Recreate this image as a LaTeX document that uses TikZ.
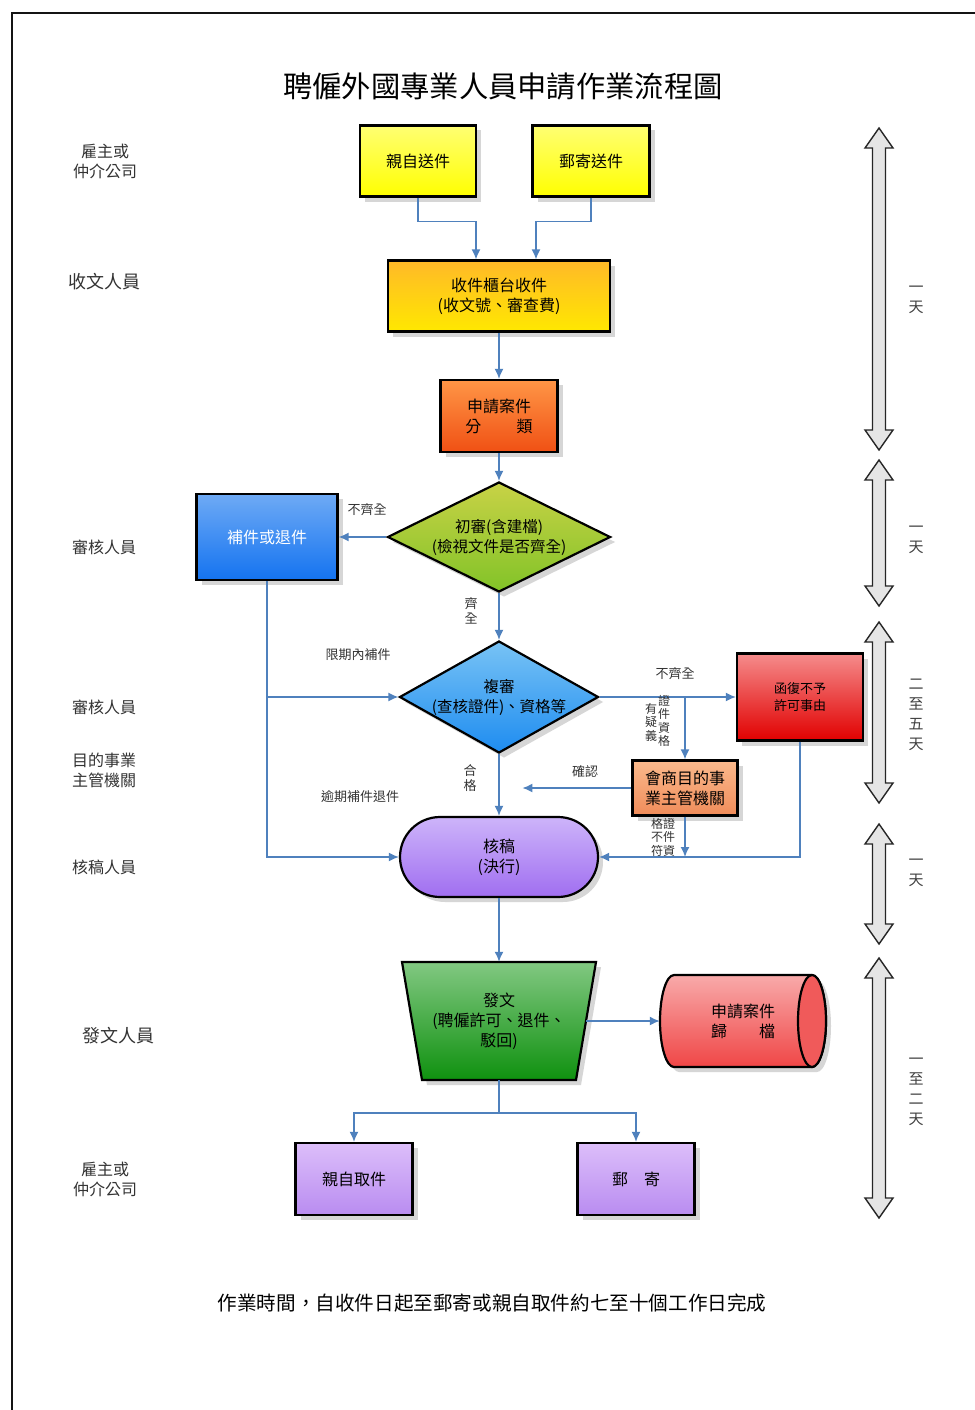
\documentclass[tikz,border=0pt]{standalone}
\usepackage{fontspec}
\setmainfont{Noto Sans CJK TC}
\usetikzlibrary{shapes.geometric,arrows.meta,shadows,calc}
\definecolor{arrowblue}{RGB}{79,129,189}
\definecolor{frame}{RGB}{20,20,20}
\newcommand\dayarrow[3]{%
  \draw[dayarr] ({#1-6.5},{#2+20}) -- ({#1-14},{#2+20}) -- (#1,#2) -- ({#1+14},{#2+20}) -- ({#1+6.5},{#2+20})
    -- ({#1+6.5},{#3-20}) -- ({#1+14},{#3-20}) -- (#1,#3) -- ({#1-14},{#3-20}) -- ({#1-6.5},{#3-20}) -- cycle;}
\begin{document}
\begin{tikzpicture}[x=1pt,y=-1pt,
  box/.style={draw=black, line width=2.2pt, inner sep=0pt, align=center,
    font=\fontsize{16}{20}\selectfont,
    drop shadow={shadow xshift=5pt, shadow yshift=-5pt, fill=black!16, opacity=1}},
  dia/.style={box, diamond},
  diatext/.style={align=center, inner sep=0pt, font=\fontsize{15.5}{20}\selectfont},
  arr/.style={draw=arrowblue, line width=1.6pt, -{Latex[length=10pt,width=9pt]}},
  ln/.style={draw=arrowblue, line width=1.6pt},
  lane/.style={align=center, font=\fontsize{16}{20}\selectfont, text=black!80},
  lbl/.style={font=\fontsize{13}{15}\selectfont, text=black!80, inner sep=0pt},
  vlbl/.style={align=center, font=\fontsize{13}{15.5}\selectfont, text=black!80, inner sep=0pt},
  vsm/.style={align=center, font=\fontsize{12}{13.5}\selectfont, text=black!80, inner sep=0pt},
  daylbl/.style={align=center, font=\fontsize{15}{20}\selectfont, text=black!75, inner sep=0pt},
  dayarr/.style={draw=black!85, line width=1.4pt, fill=black!10, line join=miter}
]
\useasboundingbox (0,0) rectangle (974,1410);
\fill[white] (0,0) rectangle (974,1410);
\draw[frame, line width=2pt] (12,1412) -- (12,13) -- (976,13);

% title
\node (title) at (503,87) {\fontsize{29.3}{34}\selectfont 聘僱外國專業人員申請作業流程圖};

% lane labels
\node[lane] (l1) at (105,161) {雇主或\\仲介公司};
\node[lane, font=\fontsize{18}{20}\selectfont] (l2) at (104,282) {收文人員};
\node[lane] (l3) at (104,547) {審核人員};
\node[lane] (l4) at (104,707) {審核人員};
\node[lane] (l5) at (104,770) {目的事業\\主管機關};
\node[lane] (l6) at (104,867) {核稿人員};
\node[lane, font=\fontsize{18}{20}\selectfont] (l7) at (118,1036) {發文人員};
\node[lane] (l8) at (105,1179) {雇主或\\仲介公司};

% nodes
\node[box, minimum width=116, minimum height=71, top color=yellow!55!white, bottom color=yellow] (sq1) at (418,161) {親自送件};
\node[box, minimum width=117, minimum height=71, top color=yellow!55!white, bottom color=yellow] (sq2) at (591,161) {郵寄送件};
\node[box, minimum width=222, minimum height=71, top color={rgb,255:red,255;green,185;blue,40}, bottom color={rgb,255:red,255;green,232;blue,0}] (recv) at (499,296) {收件櫃台收件\\(收文號、審查費)};
\node[box, minimum width=117, minimum height=72, top color={rgb,255:red,255;green,150;blue,70}, bottom color={rgb,255:red,240;green,80;blue,20}] (cls) at (499,416) {申請案件\\分\hspace{2.2em}類};
\node[dia, minimum width=223, minimum height=110, top color={rgb,255:red,200;green,210;blue,70}, bottom color={rgb,255:red,130;green,195;blue,40}] (d1) at (499,537) {};
\node[diatext] (d1t) at (d1.center) {初審(含建檔)\\(檢視文件是否齊全)};
\node[box, minimum width=141, minimum height=86, top color={rgb,255:red,110;green,170;blue,245}, bottom color={rgb,255:red,20;green,115;blue,240}, text=white] (bu) at (267,537) {補件或退件};
\node[dia, minimum width=199, minimum height=112, top color={rgb,255:red,120;green,195;blue,245}, bottom color={rgb,255:red,30;green,140;blue,240}] (d2) at (499,697) {};
\node[diatext] (d2t) at (d2.center) {複審\\(查核證件)、資格等};
\node[box, minimum width=126, minimum height=87, font=\fontsize{13}{17}\selectfont, top color={rgb,255:red,245;green,140;blue,140}, bottom color={rgb,255:red,225;green,0;blue,0}] (rej) at (800,697) {函復不予\\許可事由};
\node[box, minimum width=105, minimum height=55, top color={rgb,255:red,250;green,185;blue,140}, bottom color={rgb,255:red,240;green,140;blue,90}] (meet) at (685,788) {會商目的事\\業主管機關};
\node[box, minimum width=198, minimum height=80, rounded corners=40pt, top color={rgb,255:red,205;green,180;blue,250}, bottom color={rgb,255:red,160;green,110;blue,240}] (chk) at (499,857) {核稿\\(決行)};

% trapezoid 發文
\path[draw=black, line width=2.2pt, top color={rgb,255:red,130;green,200;blue,130}, bottom color={rgb,255:red,15;green,145;blue,15},
  drop shadow={shadow xshift=5pt, shadow yshift=-5pt, fill=black!16, opacity=1}]
  (402,962) -- (596,962) -- (576,1080) -- (422,1080) -- cycle;
\node[inner sep=0pt, minimum width=174, minimum height=118, align=center, font=\fontsize{16}{20}\selectfont] (fawen) at (499,1021) {發文\\(聘僱許可、退件、\\駁回)};

% cylinder 歸檔
\path[draw=black, line width=2.2pt, top color={rgb,255:red,248;green,170;blue,170}, bottom color={rgb,255:red,240;green,70;blue,70},
  drop shadow={shadow xshift=5pt, shadow yshift=-5pt, fill=black!16, opacity=1}]
  (674,975) -- (812,975) arc[start angle=-90, end angle=90, x radius=14, y radius=46]
  -- (674,1067) arc[start angle=90, end angle=270, x radius=14, y radius=46] -- cycle;
\draw[line width=2.2pt, fill={rgb,255:red,240;green,90;blue,90}] (812,1021) ellipse[x radius=14, y radius=46];
\node[inner sep=0pt, minimum width=166, minimum height=93, align=center, font=\fontsize{16}{20}\selectfont] (arch) at (743,1021) {申請案件\\歸\hspace{2em}檔};

\node[box, minimum width=117, minimum height=72, top color={rgb,255:red,220;green,190;blue,250}, bottom color={rgb,255:red,185;green,140;blue,240}] (pick) at (354,1179) {親自取件};
\node[box, minimum width=117, minimum height=72, top color={rgb,255:red,220;green,190;blue,250}, bottom color={rgb,255:red,185;green,140;blue,240}] (mail) at (636,1179) {郵\hspace{1em}寄};

% connectors
\draw[arr] (sq1.south) |- ($(recv.north)+(-23,-38)$) -- ($(recv.north)+(-23,0)$);
\draw[arr] (sq2.south) |- ($(recv.north)+(37,-38)$) -- ($(recv.north)+(37,0)$);
\draw[arr] (recv.south) -- (cls.north);
\draw[arr] (cls.south) -- (d1.north);
\draw[arr] (d1.west) -- (bu.east);
\draw[arr] (d1.south) -- (d2.north);
\draw[arr] (bu.south) |- (chk.west);
\draw[arr] (bu.south |- d2.west) -- (d2.west);
\draw[arr] (d2.east) -- (rej.west);
\draw[arr] (d2.east -| meet.north) -- (meet.north);
\draw[arr] (meet.west) -- ($(meet.west)+(-109,0)$);
\draw[arr] (meet.south) -- (meet.south |- chk.east);
\draw[arr] (rej.south) |- (chk.east);
\draw[arr] (d2.south) -- (chk.north);
\draw[arr] (chk.south) -- (fawen.north);
\draw[arr] (fawen.east) -- (arch.west);
\coordinate (split) at ($(fawen.south)+(0,33)$);
\draw[ln] (fawen.south) -- (split);
\draw[arr] (split) -| (pick.north);
\draw[arr] (split) -| (mail.north);

% connector labels
\node[lbl] (t1) at (367,510) {不齊全};
\node[vlbl] (t2) at (471,611) {齊\\全};
\node[lbl] (t3) at (358,655) {限期內補件};
\node[lbl] (t4) at (675,674) {不齊全};
\node[vsm] (t5a) at (664,721) {證\\件\\資\\格};
\node[vsm] (t5b) at (651,722) {有\\疑\\義};
\node[lbl] (t6) at (585,772) {確認};
\node[vlbl] (t7) at (470,778) {合\\格};
\node[lbl] (t8) at (360,797) {逾期補件退件};
\node[vsm] (t9a) at (669,837) {證\\件\\資};
\node[vsm] (t9b) at (657,837) {格\\不\\符};

% day arrows
\dayarrow{879}{128}{450}
\dayarrow{879}{460}{606}
\dayarrow{879}{622}{803}
\dayarrow{879}{824}{944}
\dayarrow{879}{958}{1218}
\node[daylbl] (d1l) at (916,300) {一\\天};
\node[daylbl] (d2l) at (916,540) {一\\天};
\node[daylbl] (d3l) at (916,715) {二\\至\\五\\天};
\node[daylbl] (d4l) at (916,873) {一\\天};
\node[daylbl] (d5l) at (916,1092) {一\\至\\二\\天};

% footer
\node (foot) at (492,1303) {\fontsize{19.6}{24}\selectfont 作業時間，自收件日起至郵寄或親自取件約七至十個工作日完成};
\end{tikzpicture}
\end{document}
